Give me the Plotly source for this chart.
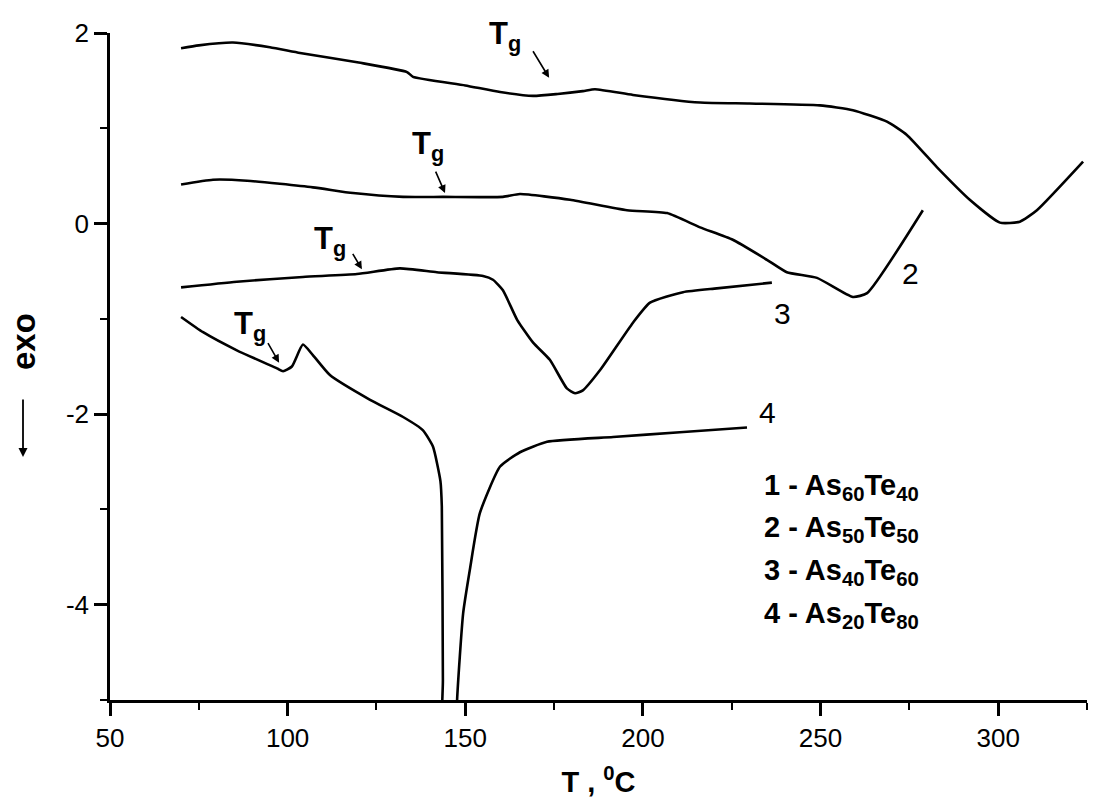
import plotly.graph_objects as go

# ---- data ----
t1 = [70, 75, 84.6, 95, 103.5, 120, 133.6, 135.3, 150, 159.8, 169.1, 176, 183.1, 186.5, 197.2,
      216.1, 230, 249.8, 259.1, 268.7, 274.3, 282.8, 292, 300.5, 306.1, 310.9, 323.9]
h1 = [1.84, 1.87, 1.90, 1.85, 1.79, 1.69, 1.59, 1.54, 1.45, 1.38, 1.34, 1.36, 1.39, 1.41, 1.35,
      1.27, 1.26, 1.24, 1.19, 1.07, 0.93, 0.59, 0.25, 0.01, 0.02, 0.14, 0.65]

t2 = [70, 79.0, 88.6, 107.1, 118.4, 132.5, 143.7, 160.6, 165.4, 179.5, 195.5, 206.8, 216.1,
      225.3, 234.9, 240.5, 249.0, 259.1, 263.1, 278.8]
h2 = [0.41, 0.46, 0.45, 0.38, 0.32, 0.28, 0.28, 0.28, 0.31, 0.25, 0.14, 0.11, -0.04,
      -0.17, -0.38, -0.51, -0.57, -0.77, -0.73, 0.14]

t3 = [70, 85.7, 104.3, 119.5, 131.6, 142.0, 155.0, 157.8, 160.6, 164.6, 169.1, 173.8, 178.6,
      180.9, 183.1, 187.9, 197.2, 202.0, 211.3, 220.8, 236.3]
h3 = [-0.67, -0.61, -0.56, -0.53, -0.47, -0.51, -0.55, -0.59, -0.70, -1.01, -1.25, -1.43, -1.73,
      -1.78, -1.75, -1.54, -1.04, -0.83, -0.72, -0.68, -0.62]

t4 = [70, 76.2, 85.7, 97.0, 98.7, 101.2, 104.3, 107.1, 111.9, 123.2, 132.5, 138.1, 140.9, 143.0,
      143.4, 143.7, 143.8, 147.6, 147.7, 149.4, 151.3, 154.1, 159.8, 165.4, 173.0, 191.6, 210.4, 229.3]
h4 = [-0.98, -1.14, -1.33, -1.52, -1.55, -1.50, -1.27, -1.38, -1.59, -1.85, -2.03, -2.17, -2.34, -2.70,
      -2.97, -4.79, -5.4, -5.4, -5.0, -4.09, -3.63, -3.04, -2.55, -2.40, -2.29, -2.24, -2.19, -2.14]

curve_names = ["1", "2", "3", "4"]
legend_lines = ["1 - As<sub>60</sub>Te<sub>40</sub>", "2 - As<sub>50</sub>Te<sub>50</sub>",
                "3 - As<sub>40</sub>Te<sub>60</sub>", "4 - As<sub>20</sub>Te<sub>80</sub>"]
x_ticks = [50, 100, 150, 200, 250, 300]
y_ticks = [-4, -2, 0, 2]
y_ticktext = ["-4", "-2", "0", "2"]

# Tg arrow tips (data) and label positions (paper fractions)
tg_tips_x = [173.6, 144.3, 120.9, 97.6]
tg_tips_y = [1.53, 0.32, -0.48, -1.46]
tg_tail_dx = [-17, -10, -10, -12]
tg_tail_dy = [-28, -23, -17, -21]
tg_lab_px = [487, 410, 312, 232]
tg_lab_py = [14, 124, 219, 304]

FONT = "Liberation Sans, Arial, sans-serif"
L, R, T, B = 110, 33, 33, 105
W, H = 1120, 805
PW, PH = W - L - R, H - T - B


def px2paper(px, py):
    return (px - L) / PW, (H - B - py) / PH


fig = go.Figure()
for t, h in [(t1, h1), (t2, h2), (t3, h3), (t4, h4)]:
    fig.add_trace(go.Scatter(x=t, y=h, mode="lines",
                             line=dict(color="black", width=2.6, shape="spline", smoothing=0.5),
                             showlegend=False, hoverinfo="skip"))

ann = []
# curve number labels (pixel centres)
lab_px = [(1128, 207), (910, 273), (782, 313), (767, 412)]
for name, (lx, ly) in zip(curve_names, lab_px):
    px_, py_ = px2paper(lx, ly)
    ann.append(dict(x=px_, y=py_, xref="paper", yref="paper", text=name, showarrow=False,
                    font=dict(family=FONT, size=30, color="black"),
                    xanchor="center", yanchor="middle"))

# legend block
leg_py = [487, 529, 572, 615]
for txt, ly in zip(legend_lines, leg_py):
    px_, py_ = px2paper(762, ly)
    ann.append(dict(x=px_, y=py_, xref="paper", yref="paper", text="<b>" + txt + "</b>",
                    showarrow=False, font=dict(family=FONT, size=29, color="black"),
                    xanchor="left", yanchor="middle"))

# Tg labels and arrows
for i in range(4):
    px_, py_ = px2paper(tg_lab_px[i], tg_lab_py[i])
    ann.append(dict(x=px_, y=py_, xref="paper", yref="paper",
                    text="<b>T<sub>g</sub></b>", showarrow=False,
                    font=dict(family=FONT, size=31, color="black"),
                    xanchor="left", yanchor="top"))
    ann.append(dict(x=tg_tips_x[i], y=tg_tips_y[i], xref="x", yref="y", text="",
                    showarrow=True, ax=tg_tail_dx[i], ay=tg_tail_dy[i],
                    arrowhead=2, arrowsize=1.0, arrowwidth=1.6, arrowcolor="black",
                    standoff=0, startstandoff=0))

# y-axis label "exo" with down arrow
ex, ey = px2paper(24, 342)
ann.append(dict(x=ex, y=ey, xref="paper", yref="paper", text="<b>exo</b>",
                textangle=-90, showarrow=False,
                font=dict(family=FONT, size=33, color="black"),
                xanchor="center", yanchor="middle"))
axp, ayp = px2paper(23, 457)
ann.append(dict(x=axp, y=ayp, xref="paper", yref="paper", text="",
                showarrow=True, ax=0, ay=-59, arrowhead=2, arrowsize=1.0,
                arrowwidth=1.8, arrowcolor="black", standoff=0))

fig.update_layout(
    width=W, height=H,
    margin=dict(l=L, r=R, t=T, b=B),
    paper_bgcolor="white", plot_bgcolor="white",
    annotations=ann,
    font=dict(family=FONT, color="black"),
    xaxis=dict(range=[50, 325], tickvals=x_ticks, ticks="outside", ticklen=13,
               tickwidth=2.5, tickcolor="black", showline=True, linewidth=2.5, linecolor="black",
               showgrid=False, zeroline=False, tickfont=dict(size=26, family=FONT),
               minor=dict(dtick=25, tick0=50, ticks="outside", ticklen=7, tickwidth=2,
                          tickcolor="black", showgrid=False),
               title=dict(text="<b>T , <sup>0</sup>C</b>", font=dict(size=29, family=FONT),
                          standoff=20)),
    yaxis=dict(range=[-5, 2], tickvals=y_ticks, ticktext=y_ticktext, ticks="outside", ticklen=13,
               tickwidth=2.5, tickcolor="black", showline=True, linewidth=2.5, linecolor="black",
               showgrid=False, zeroline=False, tickfont=dict(size=26, family=FONT),
               minor=dict(dtick=1, tick0=0, ticks="outside", ticklen=7, tickwidth=2,
                          tickcolor="black", showgrid=False)),
)

fig.write_html("out.html")
